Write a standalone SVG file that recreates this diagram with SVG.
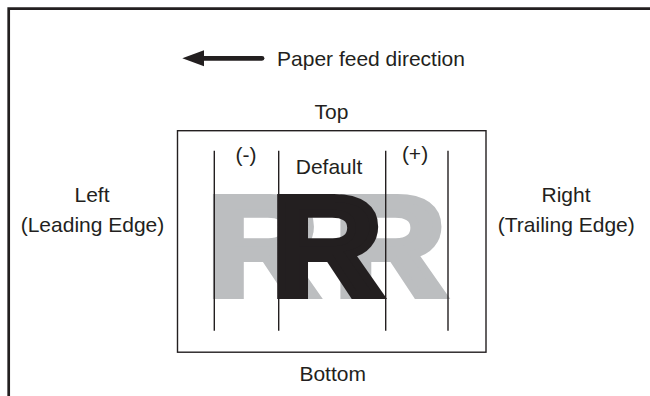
<svg xmlns="http://www.w3.org/2000/svg" width="650" height="396" viewBox="0 0 650 396">
<style>
.lbl{font-family:"Liberation Sans",Arial,Helvetica,sans-serif;font-size:21px;fill:#231f20;text-anchor:middle}
.big{font-family:"Liberation Sans",Arial,Helvetica,sans-serif;font-size:141px;font-weight:700;stroke-width:8;stroke-linejoin:miter}
.g{fill:#bcbec0;stroke:#bcbec0}
.k{fill:#231f20;stroke:#231f20}
.ln{stroke:#231f20;stroke-width:1.4;fill:none}
</style>
<rect width="650" height="396" fill="#ffffff"/>
<g id="frame">
<path d="M8.7,396 V8.7 H652" fill="none" stroke="#231f20" stroke-width="2.7"/>
</g>
<g id="feed-direction">
<line x1="200" y1="58.3" x2="262" y2="58.3" stroke="#231f20" stroke-width="4.8" stroke-linecap="round"/>
<polygon points="182.3,58.3 204,50.3 204,66.3" fill="#231f20"/>
<text class="lbl" x="371" y="66">Paper feed direction</text>
</g>
<g id="left-label">
<text class="lbl" x="92" y="201.5">Left</text>
<text class="lbl" x="92.5" y="232">(Leading Edge)</text>
</g>
<g id="right-label">
<text class="lbl" x="566" y="201.5">Right</text>
<text class="lbl" x="566.3" y="232">(Trailing Edge)</text>
</g>
<g id="page">
<rect class="ln" x="177.5" y="130.7" width="308.5" height="221.5"/>
<text class="lbl" x="331.5" y="119">Top</text>
<text class="lbl" x="332.7" y="380.7">Bottom</text>
</g>
<g id="letters">
<text class="big g" transform="translate(207,295) scale(1.09,1)">R</text>
<text class="big g" transform="translate(334.5,295) scale(1.09,1)">R</text>
<text class="big k" transform="translate(271.3,295) scale(1.09,1)">R</text>
</g>
<g id="positions">
<line class="ln" x1="214.3" y1="150.7" x2="214.3" y2="330.7"/>
<line class="ln" x1="278.7" y1="150.7" x2="278.7" y2="330.7"/>
<line class="ln" x1="385.7" y1="150.7" x2="385.7" y2="330.7"/>
<line class="ln" x1="448" y1="150.7" x2="448" y2="330.7"/>
<text class="lbl" x="246" y="161.5">(-)</text>
<text class="lbl" x="329" y="174">Default</text>
<text class="lbl" x="415" y="161">(+)</text>
</g>
</svg>
